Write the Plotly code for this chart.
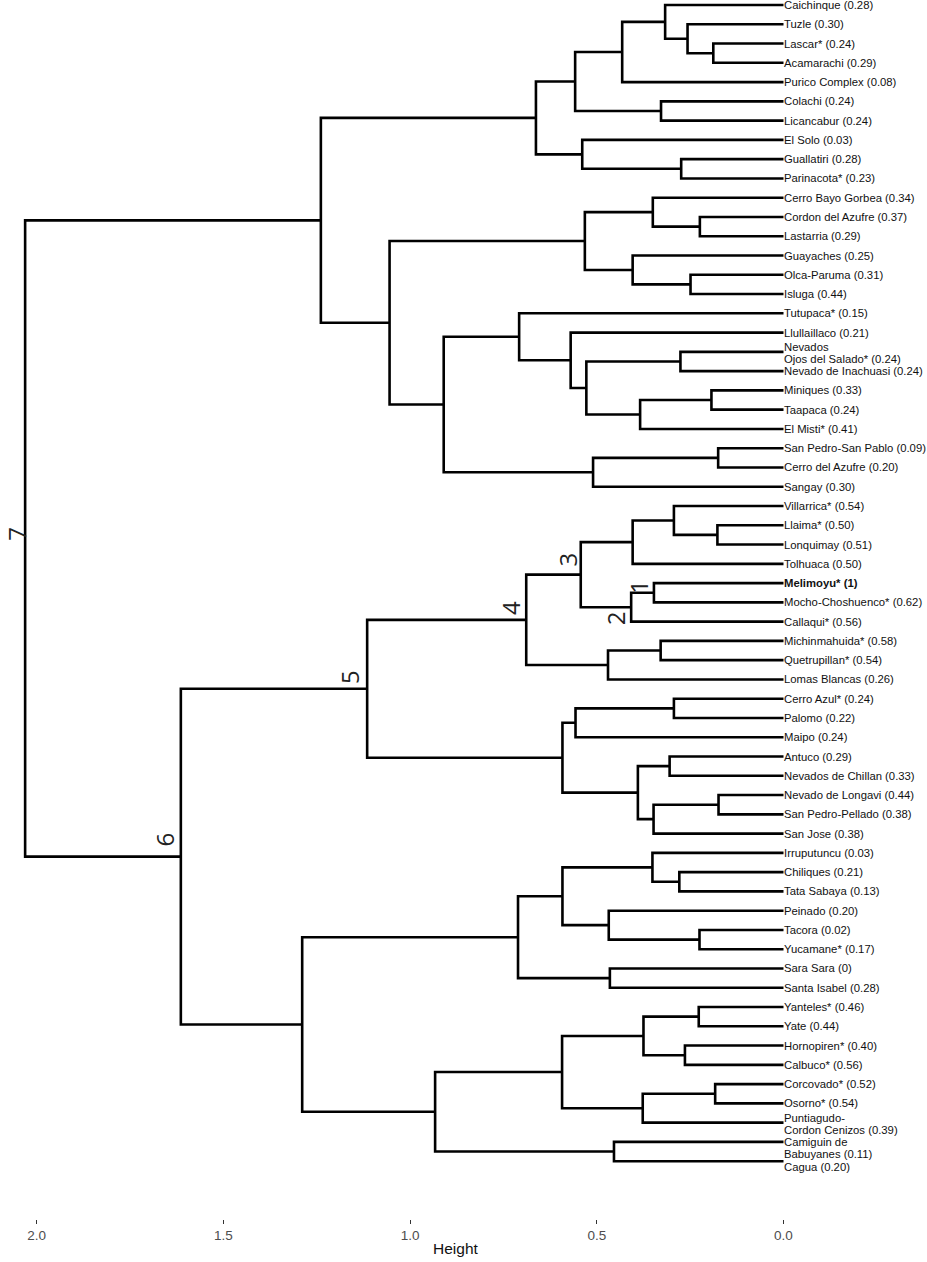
import plotly.graph_objects as go

# hojas del dendrograma, de arriba hacia abajo
leaf_labels = [
    "Caichinque (0.28)", "Tuzle (0.30)", "Lascar* (0.24)", "Acamarachi (0.29)",
    "Purico Complex (0.08)", "Colachi (0.24)", "Licancabur (0.24)", "El Solo (0.03)",
    "Guallatiri (0.28)", "Parinacota* (0.23)", "Cerro Bayo Gorbea (0.34)",
    "Cordon del Azufre (0.37)", "Lastarria (0.29)", "Guayaches (0.25)",
    "Olca-Paruma (0.31)", "Isluga (0.44)", "Tutupaca* (0.15)", "Llullaillaco (0.21)",
    "Nevados\nOjos del Salado* (0.24)", "Nevado de Inachuasi (0.24)", "Miniques (0.33)",
    "Taapaca (0.24)", "El Misti* (0.41)", "San Pedro-San Pablo (0.09)",
    "Cerro del Azufre (0.20)", "Sangay (0.30)", "Villarrica* (0.54)", "Llaima* (0.50)",
    "Lonquimay (0.51)", "Tolhuaca (0.50)", "<b>Melimoyu* (1)</b>",
    "Mocho-Choshuenco* (0.62)", "Callaqui* (0.56)", "Michinmahuida* (0.58)",
    "Quetrupillan* (0.54)", "Lomas Blancas (0.26)", "Cerro Azul* (0.24)", "Palomo (0.22)",
    "Maipo (0.24)", "Antuco (0.29)", "Nevados de Chillan (0.33)",
    "Nevado de Longavi (0.44)", "San Pedro-Pellado (0.38)", "San Jose (0.38)",
    "Irruputuncu (0.03)", "Chiliques (0.21)", "Tata Sabaya (0.13)", "Peinado (0.20)",
    "Tacora (0.02)", "Yucamane* (0.17)", "Sara Sara (0)", "Santa Isabel (0.28)",
    "Yanteles* (0.46)", "Yate (0.44)", "Hornopiren* (0.40)", "Calbuco* (0.56)",
    "Corcovado* (0.52)", "Osorno* (0.54)", "Puntiagudo-\nCordon Cenizos (0.39)",
    "Camiguin de\nBabuyanes (0.11)", "Cagua (0.20)",
]

# uniones estilo hclust: negativo = hoja (1..61), positivo = union anterior
merge_left = [
    -3, -2, -1, 3, -6, 4, -9, -8, 6, -12,
    -11, -15, -14, 11, -19, -21, 16, 15, -18, -17,
    -24, 21, 20, 14, 9, -28, -27, 27, -31, 29,
    28, -34, 32, 31, -37, 35, -40, -42, 38, 37,
    36, 34, -46, -45, -49, -48, 44, -51, 47, -53,
    -55, 50, -57, 53, 52, -60, 55, 49, 42, 25,
]
merge_right = [
    -4, 1, 2, -5, -7, 5, -10, 7, 8, -13,
    10, -16, 12, 13, -20, -22, -23, 17, 18, 19,
    -25, -26, 22, 23, 24, -29, 26, -30, -32, -33,
    30, -35, -36, 33, -38, -39, -41, -43, -44, 39,
    40, 41, -47, 43, -50, 45, 46, -52, 48, -54,
    -56, 51, -58, -59, 54, -61, 56, 57, 58, 59,
]
merge_height = [
    0.188, 0.257, 0.317, 0.432, 0.328, 0.558, 0.274, 0.539, 0.663, 0.224,
    0.350, 0.249, 0.404, 0.532, 0.276, 0.193, 0.384, 0.528, 0.570, 0.708,
    0.175, 0.510, 0.910, 1.055, 1.239, 0.177, 0.2935, 0.404, 0.347, 0.408,
    0.543, 0.329, 0.470, 0.689, 0.2935, 0.557, 0.305, 0.174, 0.348, 0.390,
    0.592, 1.115, 0.279, 0.351, 0.225, 0.468, 0.592, 0.465, 0.711, 0.227,
    0.264, 0.375, 0.183, 0.377, 0.593, 0.454, 0.933, 1.289, 1.614, 2.031,
]

# nodos numerados en la figura
cluster_nodes = [29, 30, 31, 34, 42, 59, 60]
cluster_text = ["1", "2", "3", "4", "5", "6", "7"]

tick_vals = [2.0, 1.5, 1.0, 0.5, 0.0]
tick_text = ["2.0", "1.5", "1.0", "0.5", "0.0"]


def child_pos(ref, nodes):
    if ref < 0:
        return 0.0, float(-ref - 1)
    return nodes[ref - 1]


nodes = []
line_x, line_y = [], []
for a, b, h in zip(merge_left, merge_right, merge_height):
    ha, ya = child_pos(a, nodes)
    hb, yb = child_pos(b, nodes)
    line_x += [ha, h, h, hb, None]
    line_y += [ya, ya, yb, yb, None]
    nodes.append((h, (ya + yb) / 2))

fig = go.Figure()
fig.add_trace(go.Scatter(
    x=line_x, y=line_y, mode="lines",
    line=dict(color="black", width=2.6),
    hoverinfo="skip", showlegend=False,
))

# ajustes finos de algunas etiquetas (px hacia abajo)
label_nudge = {59: 6, 60: 6, 18: 1, 58: 1}
line_gap = 12.3

annotations = []
for i, lab in enumerate(leaf_labels):
    parts = lab.split("\n")
    n = len(parts)
    for j, part in enumerate(parts):
        dy = (j - (n - 1) / 2) * line_gap + label_nudge.get(i, 0)
        annotations.append(dict(
            x=0, y=i, xref="x", yref="y", text=part, showarrow=False,
            xanchor="left", yanchor="middle", xshift=-2, yshift=-dy,
            font=dict(family="Liberation Sans, Arial", size=11.3, color="#111111"),
        ))

# posicion de los numeros respecto al nodo (px)
cluster_offset = {
    "1": (-15, -6), "2": (-16, 11), "3": (-13, -15), "4": (-15, -12),
    "5": (-17, -12), "6": (-16, -17), "7": (-9, -5),
}
for node_id, txt in zip(cluster_nodes, cluster_text):
    h, y = nodes[node_id - 1]
    dx, dy = cluster_offset[txt]
    annotations.append(dict(
        x=h, y=y, xref="x", yref="y", text=txt, showarrow=False,
        xanchor="center", yanchor="middle", xshift=dx, yshift=-dy,
        textangle=-90, borderpad=0,
        font=dict(family="Open Sans, DejaVu Sans", size=24, color="#222222"),
    ))

annotations.append(dict(
    x=455 / 927, y=-0.0246, xref="paper", yref="paper", text="Height",
    showarrow=False, xanchor="center", yanchor="middle",
    font=dict(family="Liberation Sans, Arial", size=15.5, color="#111111"),
))

fig.update_layout(
    width=927, height=1262,
    margin=dict(l=0, r=0, t=0, b=43),
    plot_bgcolor="white", paper_bgcolor="white",
    showlegend=False,
    annotations=annotations,
    xaxis=dict(
        range=[2.0983, -0.3843], tickvals=tick_vals, ticktext=tick_text,
        ticks="outside", ticklen=4, tickwidth=1.2, tickcolor="#333333",
        showgrid=False, zeroline=False, showline=False,
        tickfont=dict(family="Liberation Sans, Arial", size=13.5, color="#4d4d4d"),
    ),
    yaxis=dict(
        range=[63.0, -0.2595], showticklabels=False, ticks="",
        showgrid=False, zeroline=False, showline=False,
    ),
)

# quitar el margen por defecto del body para que la figura llene la ventana
fig.write_html(
    "out.html",
    config={"displayModeBar": False},
    post_script="document.body.style.margin='0px';document.body.style.overflow='hidden';",
)
